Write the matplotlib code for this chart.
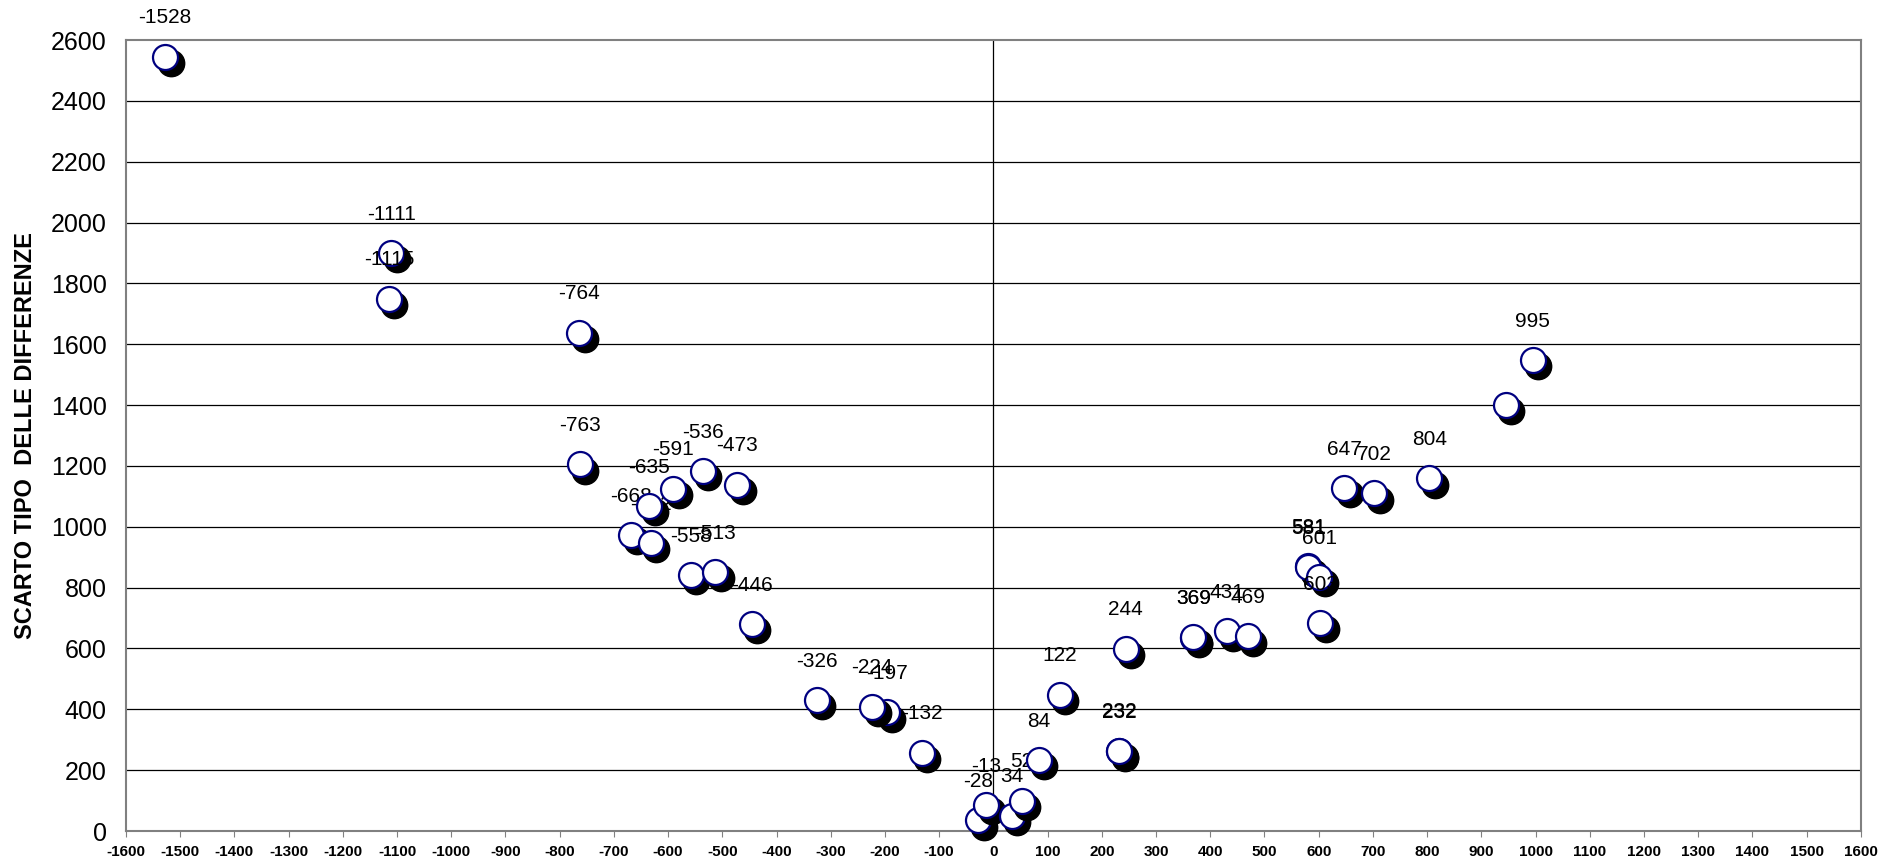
import matplotlib
matplotlib.use("Agg")
import matplotlib.pyplot as plt
import matplotlib.transforms as mtransforms

# x value (differenza) and y value (scarto tipo)
x_vals = [-1528, -1111, -1115, -764, -763, -668, -632, -635, -591, -558,
          -536, -446, -513, -473, -326, -197, -224, -132, -28, -13,
          34, 52, 84, 122, 232, 232, 244, 369, 369, 431,
          469, 581, 581, 601, 603, 647, 702, 804, 945, 995]
y_vals = [2545, 1900, 1750, 1638, 1205, 973, 947, 1068, 1125, 841,
          1183, 680, 851, 1138, 430, 390, 409, 258, 35, 85,
          50, 100, 233, 448, 262, 264, 599, 636, 638, 656,
          640, 870, 868, 835, 684, 1127, 1110, 1159, 1401, 1548]
# the point near 945 shows no label in the original
point_labels = [str(v) if v != 945 else "" for v in x_vals]

x_ticks = list(range(-1600, 1601, 100))
y_ticks = list(range(0, 2601, 200))

fig = plt.figure(figsize=(18.94, 8.66), dpi=100)
ax = fig.add_axes([0.0665, 0.0404, 0.916, 0.9134])

ax.set_xlim(-1600, 1600)
ax.set_ylim(0, 2600)

# horizontal grid lines and the vertical line at zero
for yt in y_ticks[1:-1]:
    ax.axhline(yt, color="black", lw=0.9, zorder=1)
ax.axvline(0, color="black", lw=0.9, zorder=1)

shadow = mtransforms.offset_copy(ax.transData, fig=fig, x=4, y=-4.5, units="points")

for i, (x, y, lab) in enumerate(zip(x_vals, y_vals, point_labels)):
    z = 3 + i * 0.01
    ax.plot(x, y, "o", ms=19, color="black", mec="black", transform=shadow,
            zorder=z, clip_on=False)
    ax.plot(x, y, "o", ms=18, mfc="white", mec="#000080", mew=1.6,
            zorder=z + 0.002, clip_on=False)
    ax.annotate(lab, (x, y), xytext=(0, 28), textcoords="offset points",
                ha="center", va="center", fontsize=15,
                family=["Liberation Sans", "DejaVu Sans"], zorder=z + 0.004)

ax.set_xticks(x_ticks)
ax.set_xticklabels([str(t) for t in x_ticks], fontsize=11, fontweight="bold",
                   family=["Liberation Sans Narrow", "Liberation Sans", "DejaVu Sans"])
ax.set_yticks(y_ticks)
ax.set_yticklabels([str(t) for t in y_ticks], fontsize=18,
                   family=["Liberation Sans", "DejaVu Sans"])
ax.tick_params(axis="x", length=4, color="#808080", pad=6)
ax.tick_params(axis="y", length=0, pad=14)

for s in ax.spines.values():
    s.set_color("#808080")
    s.set_linewidth(1.5)

ax.set_ylabel("SCARTO TIPO  DELLE DIFFERENZE", fontsize=17, fontweight="bold",
              family=["Liberation Sans", "DejaVu Sans"], labelpad=10)

fig.savefig("out.png", dpi=100, facecolor="white")
